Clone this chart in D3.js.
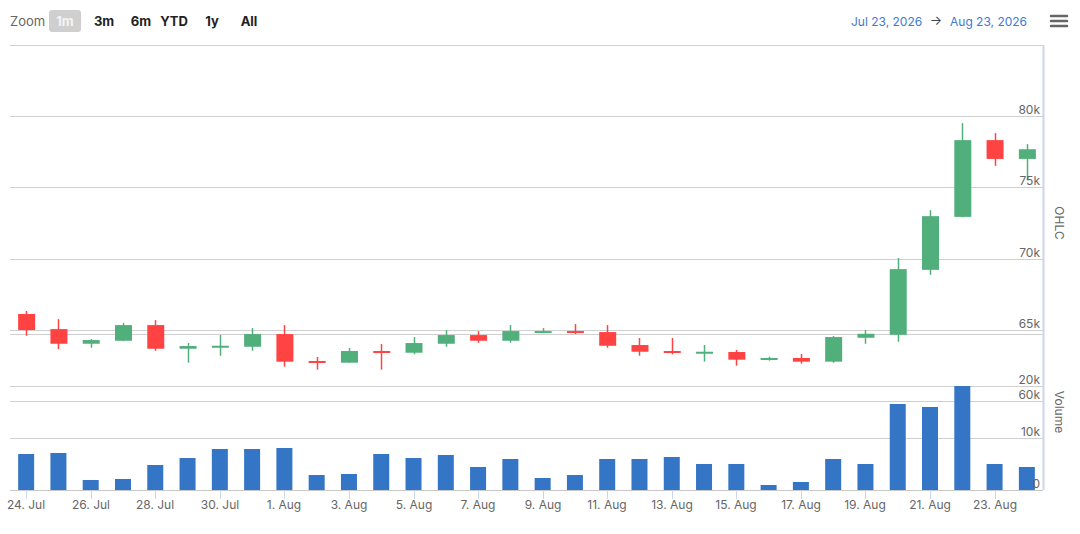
<!DOCTYPE html>
<html>
<head>
<meta charset="utf-8">
<script src="https://cdn.jsdelivr.net/npm/d3@7"></script>
<style>
  body { margin: 0; background: #fff; }
  svg { font-family: Inter, "Noto Sans", sans-serif; }
</style>
</head>
<body>
<div id="root"></div>
<script>
// data, one value per day
var dates = ["2026-07-24", "2026-07-25", "2026-07-26", "2026-07-27", "2026-07-28", "2026-07-29",
    "2026-07-30", "2026-07-31", "2026-08-01", "2026-08-02", "2026-08-03", "2026-08-04",
    "2026-08-05", "2026-08-06", "2026-08-07", "2026-08-08", "2026-08-09", "2026-08-10",
    "2026-08-11", "2026-08-12", "2026-08-13", "2026-08-14", "2026-08-15", "2026-08-16",
    "2026-08-17", "2026-08-18", "2026-08-19", "2026-08-20", "2026-08-21", "2026-08-22",
    "2026-08-23", "2026-08-24"];
var open = [66110, 65050, 64020, 64230, 65330, 63670, 63810, 63810, 64700, 62810, 62690, 63510,
    63390, 64020, 64630, 64230, 64840, 64910, 64840, 63930, 63510, 63390, 63440, 62900,
    63020, 62760, 64440, 64650, 69210, 72930, 78320, 77000];
var high = [66320, 65750, 64350, 65470, 65680, 64070, 64630, 65120, 65330, 63090, 63720, 64000,
    64490, 64980, 64910, 65330, 65120, 65400, 65330, 64420, 64420, 63930, 63580, 63110,
    63300, 64560, 64980, 70040, 73400, 79510, 78810, 78040];
var low = [64580, 63650, 63740, 64200, 63530, 62690, 63180, 63530, 62410, 62200, 62690, 62200,
    63280, 63810, 64090, 64090, 64770, 64700, 63740, 63180, 63280, 62760, 62480, 62830,
    62620, 62690, 64020, 64160, 68860, 72900, 76510, 75510];
var close = [64980, 64020, 64280, 65330, 63670, 63860, 63880, 64700, 62760, 62690, 63510, 63390,
    64070, 64630, 64230, 64910, 64910, 64790, 63880, 63460, 63390, 63460, 62900, 63020,
    62760, 64490, 64720, 69260, 72980, 78320, 77000, 77680];
var volume = [6920, 7120, 1920, 2120, 4810, 6150, 7880, 7880, 8080, 2880, 3080, 6920,
    6150, 6730, 4420, 5960, 2310, 2880, 5960, 5960, 6350, 5000, 5000, 960,
    1540, 5960, 5000, 16540, 15960, 20000, 5000, 4420];

var xTicks = ["2026-07-24", "2026-07-26", "2026-07-28", "2026-07-30", "2026-08-01", "2026-08-03",
    "2026-08-05", "2026-08-07", "2026-08-09", "2026-08-11", "2026-08-13", "2026-08-15",
    "2026-08-17", "2026-08-19", "2026-08-21", "2026-08-23"];
var ohlcTicks = [60000, 65000, 70000, 75000, 80000, 85000];
var volumeTicks = [0, 10000, 20000, 30000];
var volumeLabels = [0, 10000, 20000];
var zoomButtons = ["1m", "3m", "6m", "YTD", "1y", "All"];
var rangeFrom = "Jul 23, 2026", rangeTo = "Aug 23, 2026";

var width = 1080, height = 534;
var plot = { left: 10, right: 1043, top: 45, bottom: 490 };
var up = "#51af7b", down = "#ff4343", barColor = "#3475c6";

var data = dates.map(function (d, i) {
    return { date: new Date(d + "T00:00:00Z"), o: open[i], h: high[i], l: low[i], c: close[i], v: volume[i] };
});

var svg = d3.select("#root").append("svg")
    .attr("width", width)
    .attr("height", height);

var x = d3.scaleUtc()
    .domain([new Date("2026-07-23T12:00:00Z"), new Date("2026-08-24T12:00:00Z")])
    .range([plot.left, plot.right]);

var y = d3.scaleLinear().domain([60000, 85000]).range([401, plot.top]);
var yv = d3.scaleLinear().domain([0, 30000]).range([plot.bottom, 334]);

var fmtK = function (d) { return d === 0 ? "0" : d / 1000 + "k"; };

// gridlines
svg.append("g").selectAll("line")
    .data(ohlcTicks)
    .enter().append("line")
    .attr("x1", plot.left).attr("x2", plot.right)
    .attr("y1", function (d) { return Math.round(y(d)) + 0.5; })
    .attr("y2", function (d) { return Math.round(y(d)) + 0.5; })
    .attr("stroke", "#d0d0d0");

svg.append("g").selectAll("line")
    .data(volumeTicks.slice(1))
    .enter().append("line")
    .attr("x1", plot.left).attr("x2", plot.right)
    .attr("y1", function (d) { return Math.round(yv(d)) + 0.5; })
    .attr("y2", function (d) { return Math.round(yv(d)) + 0.5; })
    .attr("stroke", "#d0d0d0");

// volume bars
svg.append("g").selectAll("rect")
    .data(data)
    .enter().append("rect")
    .attr("x", function (d) { return x(d.date) - 8; })
    .attr("width", 16)
    .attr("y", function (d) { return yv(d.v); })
    .attr("height", function (d) { return yv(0) - yv(d.v); })
    .attr("fill", barColor);

// candles
var candle = svg.append("g").selectAll("g")
    .data(data)
    .enter().append("g");

candle.append("line")
    .attr("x1", function (d) { return Math.round(x(d.date)) + 0.5; })
    .attr("x2", function (d) { return Math.round(x(d.date)) + 0.5; })
    .attr("y1", function (d) { return y(d.h); })
    .attr("y2", function (d) { return y(d.l); })
    .attr("stroke", function (d) { return d.c >= d.o ? up : down; })
    .attr("stroke-width", 1.5);

candle.append("rect")
    .attr("x", function (d) { return x(d.date) - 8; })
    .attr("width", 17)
    .attr("y", function (d) { return y(Math.max(d.o, d.c)); })
    .attr("height", function (d) { return Math.max(2, Math.abs(y(d.o) - y(d.c))); })
    .attr("fill", function (d) { return d.c >= d.o ? up : down; });

// axes lines
svg.append("line")
    .attr("x1", plot.left).attr("x2", plot.right)
    .attr("y1", plot.bottom + 0.5).attr("y2", plot.bottom + 0.5)
    .attr("stroke", "#c8c8c8");

svg.append("line")
    .attr("x1", plot.right + 0.5).attr("x2", plot.right + 0.5)
    .attr("y1", plot.top).attr("y2", plot.bottom)
    .attr("stroke", "#ccd6eb")
    .attr("stroke-width", 2);

// x axis
var xg = svg.append("g").selectAll("g")
    .data(xTicks.map(function (d) { return new Date(d + "T00:00:00Z"); }))
    .enter().append("g")
    .attr("transform", function (d) { return "translate(" + Math.round(x(d)) + ",0)"; });

xg.append("line")
    .attr("x1", 0.5).attr("x2", 0.5)
    .attr("y1", plot.bottom).attr("y2", plot.bottom + 9)
    .attr("stroke", "#ccd6eb");

xg.append("text")
    .attr("y", 509)
    .attr("text-anchor", "middle")
    .style("font-size", "12px")
    .style("fill", "#666")
    .text(d3.utcFormat("%-d. %b"));

// y labels
svg.append("g").selectAll("text")
    .data(ohlcTicks.slice(0, 5))
    .enter().append("text")
    .attr("x", 1040)
    .attr("y", function (d) { return y(d) - 2; })
    .attr("text-anchor", "end")
    .style("font-size", "12px")
    .style("fill", "#666")
    .text(fmtK);

svg.append("g").selectAll("text")
    .data(volumeLabels)
    .enter().append("text")
    .attr("x", 1040)
    .attr("y", function (d) { return yv(d) - 2; })
    .attr("text-anchor", "end")
    .style("font-size", "12px")
    .style("fill", "#666")
    .text(fmtK);

// axis titles
svg.append("text")
    .attr("transform", "translate(1055," + (y(85000) + y(60000)) / 2 + ") rotate(90)")
    .attr("text-anchor", "middle")
    .style("font-size", "12px")
    .style("fill", "#666")
    .text("OHLC");

svg.append("text")
    .attr("transform", "translate(1055," + (yv(0) + yv(30000)) / 2 + ") rotate(90)")
    .attr("text-anchor", "middle")
    .style("font-size", "12px")
    .style("fill", "#666")
    .text("Volume");

// range selector
svg.append("text")
    .attr("x", 10).attr("y", 26)
    .style("font-size", "13px")
    .style("fill", "#666")
    .text("Zoom");

var btnX = [65, 104, 141, 174, 212, 249];
var btn = svg.append("g").selectAll("g")
    .data(zoomButtons)
    .enter().append("g")
    .attr("transform", function (d, i) { return "translate(" + btnX[i] + ",0)"; });

btn.filter(function (d, i) { return i === 0; })
    .append("rect")
    .attr("x", -16).attr("y", 10)
    .attr("width", 32).attr("height", 22)
    .attr("rx", 3)
    .attr("fill", "#cfcfcf");

btn.append("text")
    .attr("y", 26)
    .attr("text-anchor", "middle")
    .style("font-size", "13px")
    .style("font-weight", "bold")
    .style("fill", function (d, i) { return i === 0 ? "#f4f4f4" : "#222"; })
    .text(function (d) { return d; });

// date range
svg.append("text")
    .attr("x", 851).attr("y", 26)
    .style("font-size", "12px")
    .style("fill", "#3d7ad4")
    .text(rangeFrom);

svg.append("text")
    .attr("x", 936).attr("y", 25)
    .attr("text-anchor", "middle")
    .style("font-size", "13px")
    .style("fill", "#444")
    .text("\u2192");

svg.append("text")
    .attr("x", 950).attr("y", 26)
    .style("font-size", "12px")
    .style("fill", "#3d7ad4")
    .text(rangeTo);

// menu icon
svg.append("g").selectAll("line")
    .data([16, 21, 26])
    .enter().append("line")
    .attr("x1", 1051).attr("x2", 1067)
    .attr("y1", function (d) { return d; })
    .attr("y2", function (d) { return d; })
    .attr("stroke", "#666")
    .attr("stroke-width", 2.5)
    .attr("stroke-linecap", "round");
</script>
</body>
</html>
